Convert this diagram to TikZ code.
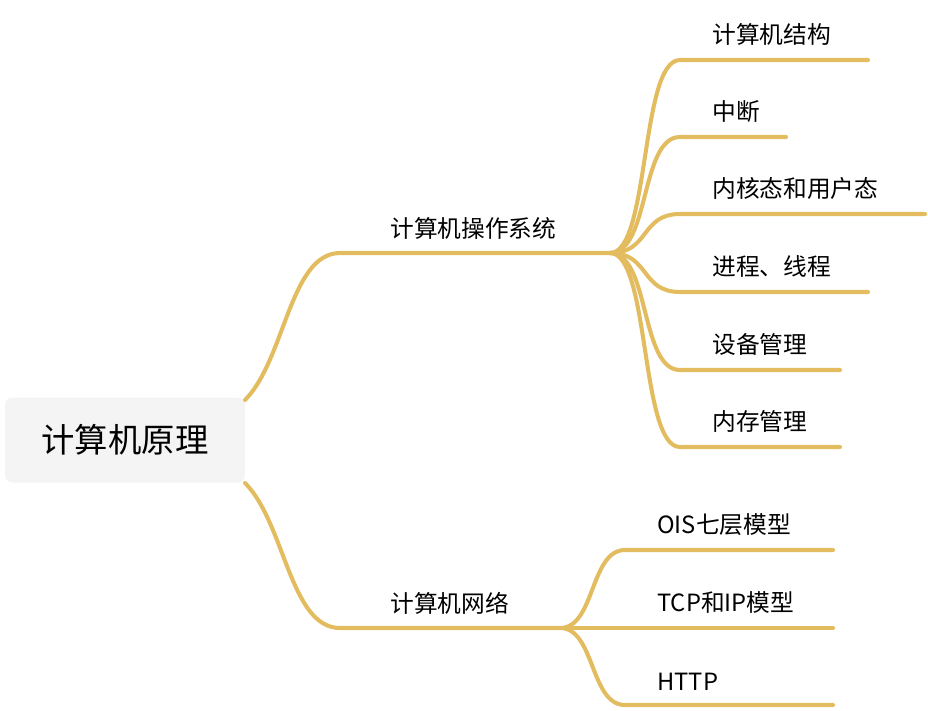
\documentclass[tikz,border=0pt]{standalone}
\usepackage{fontspec}
\setmainfont{Noto Sans CJK SC}
\usetikzlibrary{positioning}
\definecolor{branchgold}{HTML}{E2BC5E}
\definecolor{rootgrey}{HTML}{F4F4F4}
\tikzset{
	branch/.style={draw=branchgold, line width=2.3pt, line cap=round},
	leaftext/.style={anchor=south west, inner sep=0pt, font=\fontsize{13.5}{16}\selectfont},
}

\begin{document}
\begin{tikzpicture}[x=0.02cm, y=-0.02cm]
	\useasboundingbox (0, 0) rectangle (928, 710);
	\node	(root)	at	(125, 440)	[fill=rootgrey, rounded corners=4pt, minimum width=4.8cm, minimum height=1.7cm, font=\fontsize{19}{22}\selectfont]	{计算机原理};
	\coordinate	(rootT)	at	(245, 400);
	\coordinate	(rootB)	at	(245, 483);

	% first branch
	\coordinate	(osL)	at	(340, 253);
	\coordinate	(osR)	at	(610, 253);
	\node	(os)	at	(390, 240)	[leaftext]	{计算机操作系统};
	\draw	[branch]	(rootT) .. controls (285, 360) and (290, 253) .. (osL) -- (osR);

	% second branch
	\coordinate	(netL)	at	(340, 628);
	\coordinate	(netR)	at	(560, 628);
	\node	(net)	at	(390, 615)	[leaftext]	{计算机网络};
	\draw	[branch]	(rootB) .. controls (285, 523) and (290, 628) .. (netL) -- (netR);

	% leaves of the first branch
	\foreach \y/\xe/\txt [count=\i] in {60/868/计算机结构, 137/786/中断, 214/925/内核态和用户态, 292/868/进程、线程, 370/840/设备管理, 447/840/内存管理}
	{
		\coordinate	(osleaf\i)	at	(680, \y);
		\node	(ostxt\i)	at	(712, \y-14)	[leaftext]	{\txt};
		\draw	[branch]	(osR) .. controls (650, 253) and (640, \y) .. (osleaf\i) -- (\xe, \y);
	}

	% leaves of the second branch
	\foreach \y/\txt [count=\i] in {550/OIS七层模型, 628/TCP和IP模型, 705/HTTP/HTTPS}
	{
		\coordinate	(netleaf\i)	at	(625, \y);
		\node	(nettxt\i)	at	(657, \y-14)	[leaftext]	{\txt};
		\draw	[branch]	(netR) .. controls (595, 628) and (590, \y) .. (netleaf\i) -- (833, \y);
	}
\end{tikzpicture}
\end{document}
